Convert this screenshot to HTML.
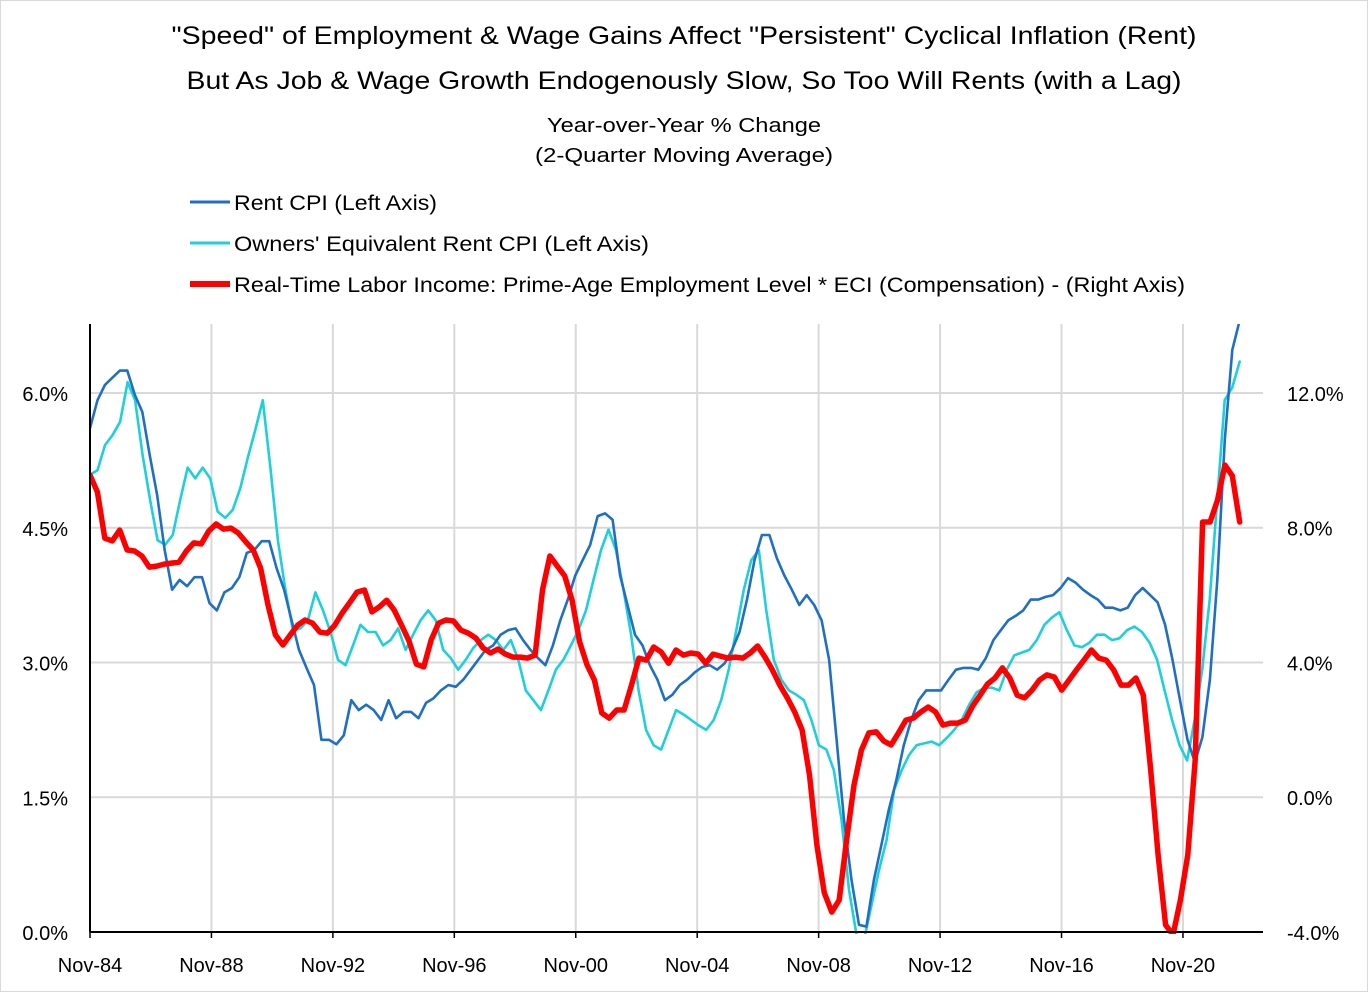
<!DOCTYPE html>
<html><head><meta charset="utf-8"><style>
html,body{margin:0;padding:0;background:#fff;}
svg{display:block;font-family:"Liberation Sans",sans-serif;}
</style></head><body>
<svg id="chart" width="1368" height="992" viewBox="0 0 1368 992">
<rect x="0.5" y="0.5" width="1367" height="991" fill="#fff" stroke="#d9d9d9"/>
<text x="684" y="44" text-anchor="middle" font-size="25" textLength="1025" lengthAdjust="spacingAndGlyphs">"Speed" of Employment &amp; Wage Gains Affect "Persistent" Cyclical Inflation (Rent)</text>
<text x="684" y="89" text-anchor="middle" font-size="25" textLength="995" lengthAdjust="spacingAndGlyphs">But As Job &amp; Wage Growth Endogenously Slow, So Too Will Rents (with a Lag)</text>
<text x="684" y="132" text-anchor="middle" font-size="20" textLength="274" lengthAdjust="spacingAndGlyphs">Year-over-Year % Change</text>
<text x="684" y="162" text-anchor="middle" font-size="20" textLength="298" lengthAdjust="spacingAndGlyphs">(2-Quarter Moving Average)</text>
<g>
<line x1="190" y1="202" x2="230" y2="202" stroke="#1f6fc5" stroke-width="3"/>
<text x="234" y="210" font-size="21" textLength="203" lengthAdjust="spacingAndGlyphs">Rent CPI (Left Axis)</text>
<line x1="190" y1="243" x2="230" y2="243" stroke="#1ecfdc" stroke-width="3"/>
<text x="234" y="251" font-size="21" textLength="415" lengthAdjust="spacingAndGlyphs">Owners' Equivalent Rent CPI (Left Axis)</text>
<line x1="190" y1="284" x2="230" y2="284" stroke="#ff0000" stroke-width="6"/>
<text x="234" y="292" font-size="21" textLength="951" lengthAdjust="spacingAndGlyphs">Real-Time Labor Income: Prime-Age Employment Level * ECI (Compensation) - (Right Axis)</text>
</g>
<defs><clipPath id="plotclip"><rect x="90" y="324" width="1175" height="610"/></clipPath></defs>
<g id="grid"></g>
<g id="series" clip-path="url(#plotclip)"></g>
<g id="axes"></g>
</svg>
<script>
const xTickLabels = ["Nov-84","Nov-88","Nov-92","Nov-96","Nov-00","Nov-04","Nov-08","Nov-12","Nov-16","Nov-20"];
const xTickYears = [1984.83,1988.83,1992.83,1996.83,2000.83,2004.83,2008.83,2012.83,2016.83,2020.83];
const leftTicks = [0,1.5,3,4.5,6];
const leftTickLabels = ["0.0%","1.5%","3.0%","4.5%","6.0%"];
const rightTicks = [-4,0,4,8,12];
const rightTickLabels = ["-4.0%","0.0%","4.0%","8.0%","12.0%"];
const seriesStart = 1984.83;
const seriesEnd = 2022.7;
const rentCPI = [5.61,5.92,6.09,6.17,6.25,6.25,5.98,5.79,5.31,4.86,4.25,3.81,3.92,3.85,3.95,3.95,3.66,3.58,3.78,3.83,3.95,4.22,4.25,4.35,4.35,4.05,3.81,3.47,3.14,2.94,2.75,2.14,2.14,2.09,2.19,2.58,2.47,2.53,2.47,2.36,2.58,2.38,2.45,2.45,2.38,2.55,2.60,2.69,2.75,2.73,2.81,2.92,3.03,3.14,3.19,3.31,3.36,3.38,3.25,3.14,3.05,2.97,3.19,3.47,3.70,3.97,4.14,4.31,4.63,4.66,4.59,3.97,3.64,3.31,3.19,2.97,2.81,2.58,2.64,2.75,2.81,2.89,2.95,2.97,2.92,2.99,3.14,3.34,3.70,4.14,4.42,4.42,4.16,3.97,3.81,3.64,3.75,3.64,3.47,3.03,2.14,1.25,0.58,0.08,0.06,0.58,0.97,1.36,1.69,2.08,2.36,2.58,2.69,2.69,2.69,2.81,2.92,2.94,2.94,2.92,3.05,3.25,3.36,3.47,3.52,3.58,3.70,3.70,3.73,3.75,3.83,3.94,3.89,3.81,3.75,3.70,3.61,3.61,3.58,3.61,3.75,3.83,3.75,3.67,3.42,3.03,2.58,2.14,1.89,2.17,2.81,3.92,5.48,6.48,6.81];
const oerCPI = [5.09,5.14,5.42,5.53,5.68,6.12,5.92,5.31,4.81,4.36,4.31,4.42,4.81,5.17,5.05,5.17,5.05,4.68,4.61,4.70,4.94,5.28,5.59,5.92,5.17,4.36,3.81,3.36,3.38,3.47,3.78,3.58,3.34,3.03,2.97,3.19,3.42,3.34,3.34,3.19,3.25,3.38,3.14,3.31,3.47,3.58,3.47,3.14,3.05,2.92,3.03,3.16,3.25,3.31,3.25,3.14,3.25,3.03,2.69,2.58,2.47,2.69,2.92,3.03,3.19,3.36,3.58,3.92,4.25,4.48,4.25,3.81,3.31,2.69,2.25,2.08,2.03,2.25,2.47,2.42,2.36,2.30,2.25,2.36,2.58,2.92,3.36,3.81,4.14,4.25,3.58,3.03,2.81,2.69,2.64,2.58,2.36,2.08,2.03,1.80,1.25,0.47,-0.03,-0.09,0.30,0.69,1.02,1.58,1.80,1.97,2.08,2.10,2.12,2.08,2.16,2.25,2.36,2.53,2.67,2.72,2.72,2.69,2.92,3.08,3.11,3.14,3.25,3.42,3.50,3.56,3.36,3.19,3.17,3.22,3.31,3.31,3.25,3.27,3.36,3.40,3.34,3.22,3.03,2.69,2.36,2.08,1.91,2.36,2.92,3.70,4.81,5.92,6.06,6.35];
const laborIncome = [9.56,9.06,7.69,7.61,7.93,7.34,7.31,7.16,6.83,6.86,6.92,6.95,6.98,7.31,7.55,7.52,7.90,8.11,7.96,7.99,7.84,7.58,7.34,6.80,5.71,4.82,4.52,4.82,5.11,5.26,5.17,4.90,4.87,5.11,5.47,5.77,6.09,6.15,5.50,5.65,5.85,5.56,5.11,4.64,3.95,3.87,4.67,5.17,5.26,5.23,4.96,4.87,4.73,4.43,4.28,4.40,4.25,4.16,4.16,4.13,4.22,6.15,7.16,6.86,6.57,5.85,4.61,3.93,3.48,2.50,2.35,2.59,2.59,3.33,4.13,4.07,4.46,4.31,3.98,4.37,4.22,4.28,4.25,3.98,4.25,4.19,4.13,4.16,4.13,4.28,4.49,4.16,3.78,3.33,2.95,2.53,2.00,0.66,-1.42,-2.84,-3.41,-3.05,-1.27,0.36,1.40,1.91,1.94,1.67,1.55,1.91,2.29,2.35,2.53,2.68,2.53,2.14,2.20,2.20,2.29,2.71,3.03,3.36,3.54,3.84,3.54,3.03,2.95,3.18,3.48,3.63,3.57,3.18,3.48,3.78,4.07,4.37,4.13,4.07,3.78,3.33,3.33,3.54,3.03,0.81,-1.71,-3.79,-4.09,-3.05,-1.71,1.11,8.17,8.17,8.82,9.86,9.54,8.17];

const NS='http://www.w3.org/2000/svg';
const X0=90, PXY=30.36, Y0=932, PLOT_R=1263, PLOT_T=324;
function xScale(yr){return X0+(yr-1984.83)*PXY;}
function yLeft(v){return Y0-v*89.83;}
function yRight(v){return Y0-(v+4)*33.69;}
function mk(tag,attrs,parent){const e=document.createElementNS(NS,tag);for(const k in attrs)e.setAttribute(k,attrs[k]);parent.appendChild(e);return e;}
const grid=document.getElementById('grid'), axes=document.getElementById('axes'), series=document.getElementById('series');
leftTicks.forEach((v,i)=>{
  if(v>0){const g=mk('line',{x1:X0,x2:PLOT_R,y1:yLeft(v),y2:yLeft(v),stroke:'#d9d9d9','stroke-width':2},grid);
  
  }
  const t=mk('text',{x:68,y:yLeft(v)+8,'text-anchor':'end','font-size':20},axes);t.textContent=leftTickLabels[i];
  
  
});
rightTicks.forEach((v,i)=>{
  const t=mk('text',{x:1287,y:yRight(v)+8,'font-size':20},axes);t.textContent=rightTickLabels[i];
  
  
});
xTickYears.forEach((yr,i)=>{
  const x=xScale(yr);
  if(i>0){const g=mk('line',{x1:x,x2:x,y1:PLOT_T,y2:Y0,stroke:'#d9d9d9','stroke-width':2},grid);
  
  }
  const tk=mk('line',{x1:x,x2:x,y1:Y0,y2:Y0+6,stroke:'#000','stroke-width':1.5},axes);
  
  
  const t=mk('text',{x:x,y:972,'text-anchor':'middle','font-size':20},axes);t.textContent=xTickLabels[i];
  
  
});
const ax1=mk('line',{x1:X0,x2:X0,y1:PLOT_T,y2:Y0,stroke:'#000','stroke-width':2},axes);


const ax2=mk('line',{x1:X0,x2:PLOT_R,y1:Y0,y2:Y0,stroke:'#000','stroke-width':2},axes);


function drawLine(vals,yf,color,w,name){
  const n=vals.length;
  const pts=vals.map((v,i)=>{const yr=seriesStart+i*(seriesEnd-seriesStart)/(n-1);return xScale(yr).toFixed(1)+','+yf(v).toFixed(1);}).join(' ');
  const p=mk('polyline',{points:pts,fill:'none',stroke:color,'stroke-width':w,'stroke-linejoin':'round','stroke-linecap':'round'},series);
  
  
}
drawLine(oerCPI,yLeft,'#1ecfdc',2.6,'oer-cpi-line');
drawLine(rentCPI,yLeft,'#1f6fc5',2.6,'rent-cpi-line');
drawLine(laborIncome,yRight,'#ff0000',5.5,'labor-income-line');
</script>
</body></html>
